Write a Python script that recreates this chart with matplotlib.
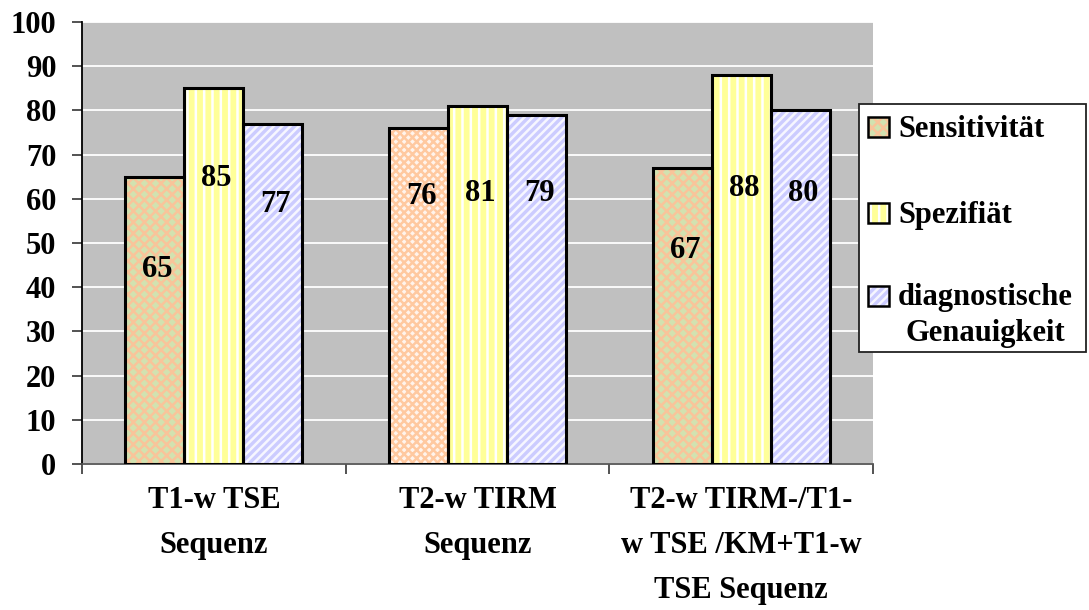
import matplotlib
matplotlib.use("Agg")
import matplotlib.pyplot as plt
import numpy as np
from matplotlib.patches import Rectangle

categories = ["T1-w TSE\nSequenz", "T2-w TIRM\nSequenz", "T2-w TIRM-/T1-\nw TSE /KM+T1-w\nTSE Sequenz"]
series_names = ["Sensitivität", "Spezifiät", "diagnostische\nGenauigkeit"]
sensitivity = [65, 76, 67]
specificity = [85, 81, 88]
accuracy = [77, 79, 80]
# vertical positions (in data units) where the value labels sit
label_pos_sens = [44, 60.6, 48.4]
label_pos_spec = [64.5, 61.3, 62.4]
label_pos_acc = [58.6, 61.3, 61.3]
yticks = [0, 10, 20, 30, 40, 50, 60, 70, 80, 90, 100]

W, H = 1089, 610
plt.rcParams['font.family'] = ['Liberation Serif', 'DejaVu Serif']
plt.rcParams['font.weight'] = 'bold'
plt.rcParams['hatch.linewidth'] = 1.8

fig = plt.figure(figsize=(W / 100, H / 100), dpi=100)
ax = fig.add_axes([82 / W, 1 - 464 / H, (873 - 82) / W, (464 - 22) / H])
ax.set_facecolor('#C0C0C0')

x = np.arange(len(categories))
bw = 0.2235

sens_faces = ['#D2E2B0', '#FFF4EC', '#D2E2B0']
sens_hatch_col = ['#F9C49A', '#FFC9A0', '#F9C49A']
sens_hatches = ['xxx', 'xxxx', 'xxx']
spec_face, spec_hcol = '#FFFF99', '#FFFFFF'
acc_face, acc_hcol = '#CCCCFF', '#F6F6FF'

series = [sensitivity, specificity, accuracy]
label_pos = [label_pos_sens, label_pos_spec, label_pos_acc]
for si, vals in enumerate(series):
    xs = x + (si - 1) * bw
    for i, (xx, v) in enumerate(zip(xs, vals)):
        if si == 0:
            fc, hc, hatch = sens_faces[i], sens_hatch_col[i], sens_hatches[i]
        elif si == 1:
            fc, hc, hatch = spec_face, spec_hcol, '||'
        else:
            fc, hc, hatch = acc_face, acc_hcol, '////'
        ax.bar(xx, v, width=bw, color=fc, edgecolor=hc, hatch=hatch, linewidth=0, zorder=2)
        ax.bar(xx, v, width=bw, fill=False, edgecolor='black', linewidth=2.2, zorder=3)
        ax.text(xx + 0.01, label_pos[si][i], str(v), ha='center', va='center',
                fontsize=22, fontweight='bold', zorder=4)

ax.set_xlim(-0.5, len(categories) - 0.5)
ax.set_ylim(0, 100)
ax.set_yticks(yticks)
ax.set_yticklabels([str(t) for t in yticks], fontsize=22, fontweight='bold')
ax.yaxis.grid(True, color='white', linewidth=1.3, zorder=1)
ax.set_axisbelow(True)
ax.set_xticks(x)
ax.set_xticklabels(categories, fontsize=22, fontweight='bold', linespacing=1.72)
ax.set_xticks(np.arange(len(categories) + 1) - 0.5, minor=True)
ax.tick_params(axis='x', which='major', length=0, pad=16)
ax.tick_params(axis='x', which='minor', length=7.5, width=1.3, color='#444444', direction='out')
ax.tick_params(axis='y', length=7.5, width=1.3, color='#444444', direction='out', pad=11)
for s in ['top', 'right']:
    ax.spines[s].set_visible(False)
ax.spines['left'].set_color('black')
ax.spines['left'].set_linewidth(1.3)
ax.spines['bottom'].set_color('#555555')
ax.spines['bottom'].set_linewidth(1.3)


def fx(px):
    return px / W


def fy(py):
    return 1 - py / H

# legend (manual, to mimic the original layout)
fig.patches.append(Rectangle((fx(859), fy(352)), fx(1086) - fx(859), (352 - 104) / H,
                             transform=fig.transFigure, facecolor='white', edgecolor='#222222',
                             linewidth=1.3, zorder=5))
rows = [127, 213, 296]
leg_styles = [(sens_faces[0], sens_hatch_col[0], 'xxx'), (spec_face, spec_hcol, '||'), (acc_face, acc_hcol, '////')]
for (fc, hc, hatch), name, ry in zip(leg_styles, series_names, rows):
    fig.patches.append(Rectangle((fx(868), fy(ry + 10)), 21 / W, 20 / H, transform=fig.transFigure,
                                 facecolor=fc, edgecolor=hc, hatch=hatch, linewidth=0, zorder=6))
    fig.patches.append(Rectangle((fx(868), fy(ry + 10)), 21 / W, 20 / H, transform=fig.transFigure,
                                 fill=False, edgecolor='black', linewidth=1.8, zorder=7))
    t = fig.text(fx(898), fy(ry + 10), name, ha='left', va='baseline', fontsize=22,
                 fontweight='bold', linespacing=1.3, multialignment='center', zorder=8)
    if '\n' in name:
        t.set_va('baseline')
        t.set_y(fy(ry + 10 + 35))

fig.savefig('out.png', dpi=100)
